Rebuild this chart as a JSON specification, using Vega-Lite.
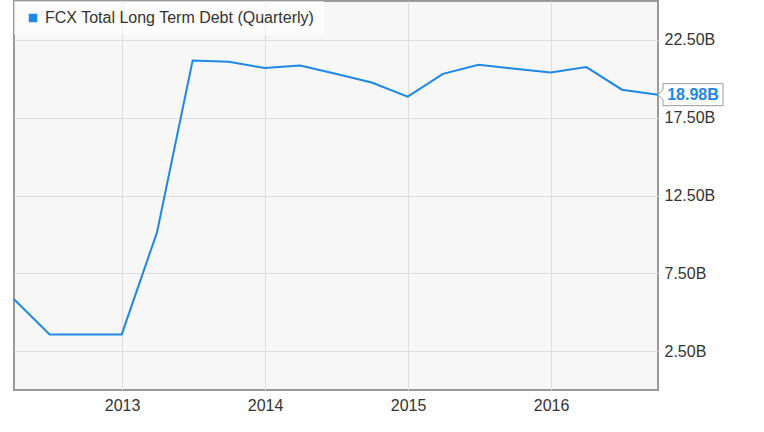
{
  "$schema": "https://vega.github.io/schema/vega-lite/v6.json",
  "autosize": "none",
  "width": 644,
  "height": 389,
  "padding": {"left": 14, "top": 1, "right": 106, "bottom": 42},
  "background": "#ffffff",
  "config": {
    "view": {"fill": "#f7f7f7", "stroke": "#999999", "strokeWidth": 2},
    "font": "Liberation Sans"
  },
  "data": {
    "values": [
      {"date": "2012-03-31", "value": 5.83, "series": "FCX Total Long Term Debt (Quarterly)"},
      {"date": "2012-06-30", "value": 3.57, "series": "FCX Total Long Term Debt (Quarterly)"},
      {"date": "2012-09-30", "value": 3.57, "series": "FCX Total Long Term Debt (Quarterly)"},
      {"date": "2012-12-31", "value": 3.57, "series": "FCX Total Long Term Debt (Quarterly)"},
      {"date": "2013-03-31", "value": 10.13, "series": "FCX Total Long Term Debt (Quarterly)"},
      {"date": "2013-06-30", "value": 21.17, "series": "FCX Total Long Term Debt (Quarterly)"},
      {"date": "2013-09-30", "value": 21.09, "series": "FCX Total Long Term Debt (Quarterly)"},
      {"date": "2013-12-31", "value": 20.69, "series": "FCX Total Long Term Debt (Quarterly)"},
      {"date": "2014-03-31", "value": 20.85, "series": "FCX Total Long Term Debt (Quarterly)"},
      {"date": "2014-06-30", "value": 20.32, "series": "FCX Total Long Term Debt (Quarterly)"},
      {"date": "2014-09-30", "value": 19.76, "series": "FCX Total Long Term Debt (Quarterly)"},
      {"date": "2014-12-31", "value": 18.85, "series": "FCX Total Long Term Debt (Quarterly)"},
      {"date": "2015-03-31", "value": 20.32, "series": "FCX Total Long Term Debt (Quarterly)"},
      {"date": "2015-06-30", "value": 20.90, "series": "FCX Total Long Term Debt (Quarterly)"},
      {"date": "2015-09-30", "value": 20.64, "series": "FCX Total Long Term Debt (Quarterly)"},
      {"date": "2015-12-31", "value": 20.40, "series": "FCX Total Long Term Debt (Quarterly)"},
      {"date": "2016-03-31", "value": 20.75, "series": "FCX Total Long Term Debt (Quarterly)"},
      {"date": "2016-06-30", "value": 19.30, "series": "FCX Total Long Term Debt (Quarterly)"},
      {"date": "2016-09-30", "value": 18.98, "series": "FCX Total Long Term Debt (Quarterly)"}
    ]
  },
  "encoding": {
    "x": {
      "field": "date",
      "type": "temporal",
      "scale": {"domain": ["2012-03-31", "2016-09-30"]},
      "axis": {
        "title": null,
        "format": "%Y",
        "tickCount": {"interval": "year", "step": 1},
        "ticks": false,
        "domain": false,
        "grid": true,
        "gridColor": "#dddddd",
        "gridWidth": 1,
        "labelFontSize": 16,
        "labelColor": "#333333",
        "labelPadding": 7,
        "labelFont": "Liberation Sans"
      }
    },
    "y": {
      "field": "value",
      "type": "quantitative",
      "scale": {"domain": [0, 25], "nice": false, "zero": false},
      "axis": {
        "title": null,
        "orient": "right",
        "values": [2.5, 7.5, 12.5, 17.5, 22.5],
        "labelExpr": "format(datum.value, '.2f') + 'B'",
        "ticks": false,
        "domain": false,
        "grid": true,
        "gridColor": "#dddddd",
        "gridWidth": 1,
        "labelFontSize": 16,
        "labelColor": "#333333",
        "labelPadding": 6,
        "labelFont": "Liberation Sans"
      }
    }
  },
  "layer": [
    {
      "mark": {"type": "line", "strokeWidth": 2, "interpolate": "linear"},
      "encoding": {
        "color": {
          "field": "series",
          "type": "nominal",
          "scale": {"range": ["#1e88e5"]},
          "legend": {
            "title": null,
            "orient": "none",
            "legendX": 0,
            "legendY": 0,
            "fillColor": "rgba(255,255,255,0.6)",
            "padding": 9,
            "symbolType": "square",
            "symbolSize": 72,
            "symbolOffset": 2,
            "symbolStrokeWidth": 0,
            "symbolFillColor": "#1e88e5",
            "labelFontSize": 16,
            "labelColor": "#333333",
            "labelFont": "Liberation Sans",
            "labelOffset": 4,
            "labelLimit": 500
          }
        }
      }
    },
    {
      "transform": [{"filter": "utcyear(datum.date) === 2016 && utcmonth(datum.date) === 8"}],
      "mark": {
        "type": "point",
        "shape": "M0,0L5,-5L5,-11L65,-11L65,11L5,11L5,5Z",
        "size": 4,
        "filled": true,
        "fill": "#ffffff",
        "stroke": "#999999",
        "strokeWidth": 1,
        "opacity": 1
      }
    },
    {
      "transform": [
        {"filter": "utcyear(datum.date) === 2016 && utcmonth(datum.date) === 8"},
        {"calculate": "format(datum.value, '.2f') + 'B'", "as": "label"}
      ],
      "mark": {
        "type": "text",
        "dx": 35,
        "align": "center",
        "baseline": "middle",
        "fontWeight": "bold",
        "fontSize": 16,
        "font": "Liberation Sans",
        "color": "#1e88e5"
      },
      "encoding": {"text": {"field": "label"}}
    }
  ]
}
